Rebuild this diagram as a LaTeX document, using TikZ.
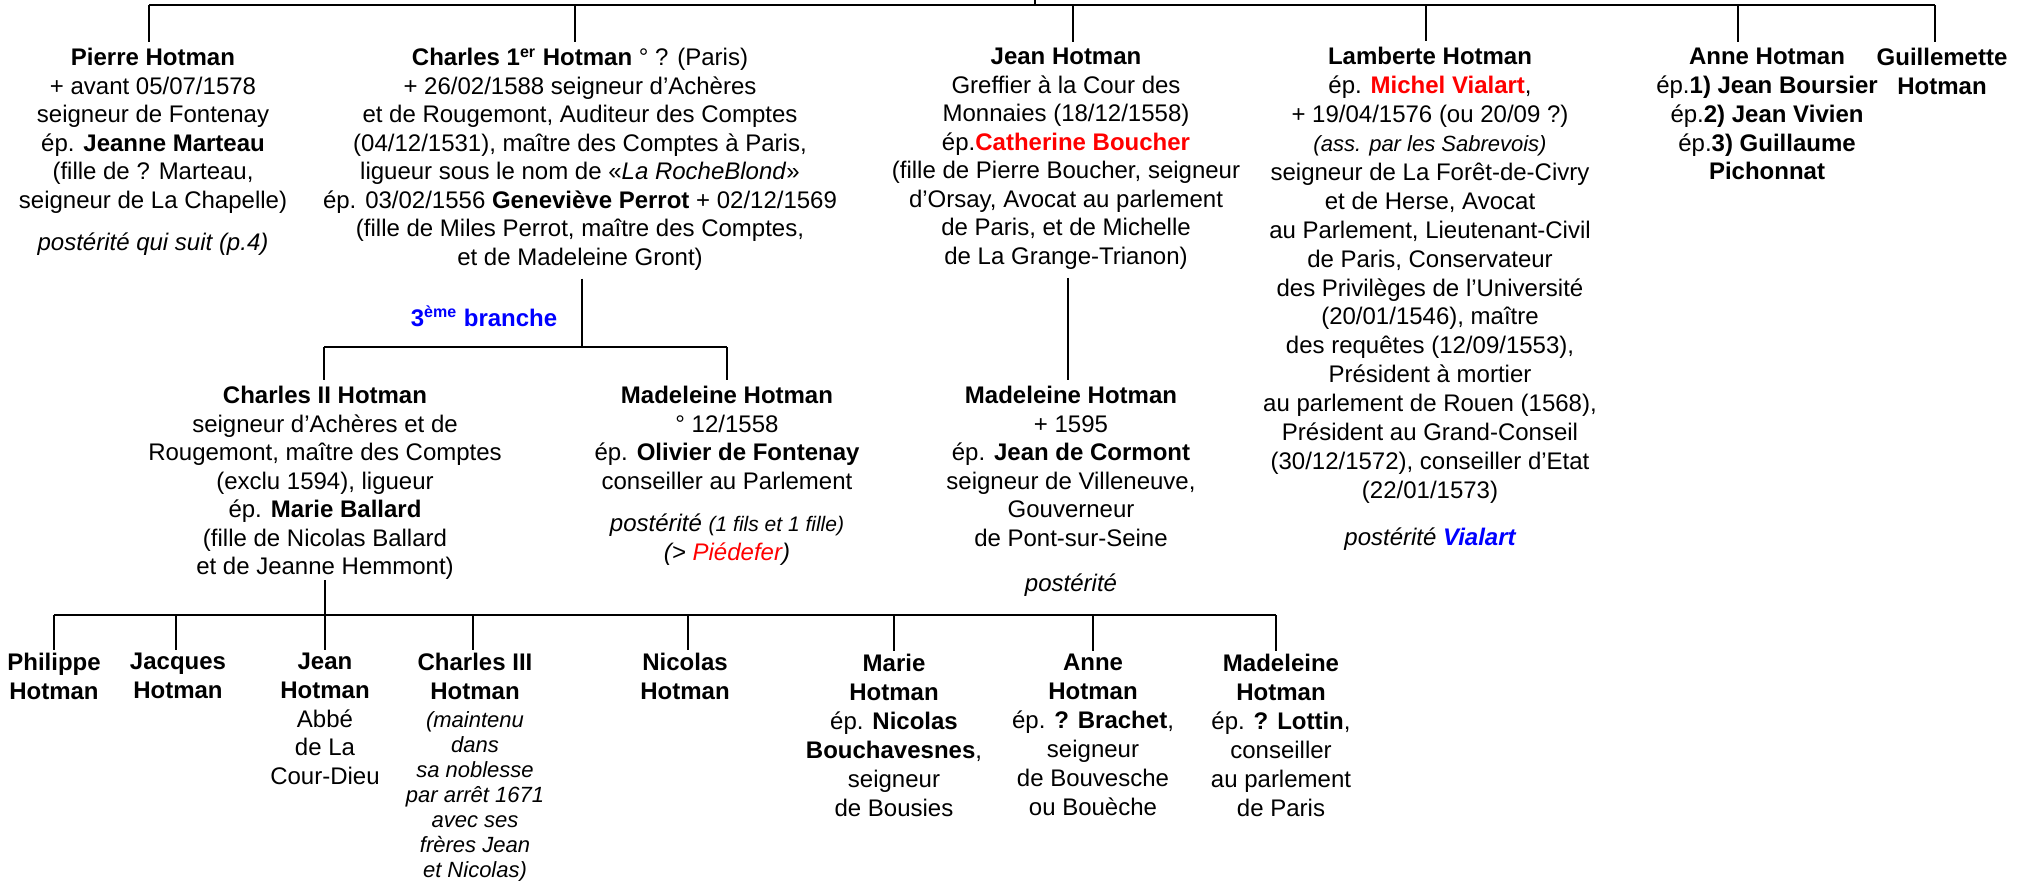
\documentclass[tikz,border=0pt]{standalone}
\usepackage{fontspec}
\setmainfont{Liberation Sans}
\definecolor{nomrouge}{RGB}{255,0,0}
\definecolor{branchebleu}{RGB}{0,0,255}
\tikzset{
  pers/.style={anchor=north, align=center, inner sep=0pt, font=\fontsize{12}{14.25}\selectfont},
  trait/.style={line width=1pt},
  lien/.style={line width=1pt, shorten >=3pt},
}

\begin{document}
\begin{tikzpicture}[x=0.5pt,y=-0.5pt]
        \useasboundingbox (0,0) rectangle (2022,880);
        % premier degre
        \node[pers] (pierre) at (153,48) {\textbf{Pierre Hotman}\\+ avant 05/07/1578\\seigneur de Fontenay\\ép. \textbf{Jeanne Marteau}\\(fille de ? Marteau,\\seigneur de La Chapelle)\\[7pt]\textit{postérité qui suit (p.4)}};
        \node[pers] (charles1) at (580,48) {\textbf{Charles 1\textsuperscript{er} Hotman} ° ? (Paris)\\+ 26/02/1588 seigneur d’Achères\\et de Rougemont, Auditeur des Comptes\\(04/12/1531), maître des Comptes à Paris,\\ligueur sous le nom de «\textit{La RocheBlond}»\\ép. 03/02/1556 \textbf{Geneviève Perrot} + 02/12/1569\\(fille de Miles Perrot, maître des Comptes,\\et de Madeleine Gront)};
        \node[pers] (jean) at (1066,48) {\textbf{Jean Hotman}\\Greffier à la Cour des\\Monnaies (18/12/1558)\\ép.\textcolor{nomrouge}{\textbf{Catherine Boucher}}\\(fille de Pierre Boucher, seigneur\\d’Orsay, Avocat au parlement\\de Paris, et de Michelle\\de La Grange-Trianon)};
        \node[pers, font=\fontsize{12}{14.45}\selectfont] (lamberte) at (1430,47) {\textbf{Lamberte Hotman}\\ép. \textcolor{nomrouge}{\textbf{Michel Vialart}},\\+ 19/04/1576 (ou 20/09 ?)\\{\fontsize{11}{13}\selectfont\textit{(ass. par les Sabrevois)}}\\seigneur de La Forêt-de-Civry\\et de Herse, Avocat\\au Parlement, Lieutenant-Civil\\de Paris, Conservateur\\des Privilèges de l’Université\\(20/01/1546), maître\\des requêtes (12/09/1553),\\Président à mortier\\au parlement de Rouen (1568),\\Président au Grand-Conseil\\(30/12/1572), conseiller d’Etat\\(22/01/1573)\\[9.3pt]\textit{postérité \textcolor{branchebleu}{\textbf{Vialart}}}};
        \node[pers, font=\fontsize{12}{14.35}\selectfont] (anne) at (1767,48) {\textbf{Anne Hotman}\\ép.\textbf{1) Jean Boursier}\\ép.\textbf{2) Jean Vivien}\\ép.\textbf{3) Guillaume}\\\textbf{Pichonnat}};
        \node[pers, font=\fontsize{12}{14.35}\selectfont] (guillemette) at (1942,48) {\textbf{Guillemette}\\\textbf{Hotman}};
        % deuxieme degre
        \node[font=\fontsize{12}{14}\selectfont, text=branchebleu, inner sep=0pt] (branche3) at (484,316) {\textbf{3\textsuperscript{ème} branche}};
        \node[pers] (charles2) at (325,386) {\textbf{Charles II Hotman}\\seigneur d’Achères et de\\Rougemont, maître des Comptes\\(exclu 1594), ligueur\\ép. \textbf{Marie Ballard}\\(fille de Nicolas Ballard\\et de Jeanne Hemmont)};
        \node[pers] (madF) at (727,386) {\textbf{Madeleine Hotman}\\° 12/1558\\ép. \textbf{Olivier de Fontenay}\\conseiller au Parlement\\[7pt]\textit{postérité {\fontsize{10.5}{12}\selectfont(1 fils et 1 fille)}}\\\textit{(> \textcolor{nomrouge}{Piédefer})}};
        \node[pers] (madC) at (1071,386) {\textbf{Madeleine Hotman}\\+ 1595\\ép. \textbf{Jean de Cormont}\\seigneur de Villeneuve,\\Gouverneur\\de Pont-sur-Seine\\[8.5pt]\textit{postérité}};
        % troisieme degre
        \node[pers] (philippe) at (54,653) {\textbf{Philippe}\\\textbf{Hotman}};
        \node[pers] (jacques) at (178,653) {\textbf{Jacques}\\\textbf{Hotman}};
        \node[pers, font=\fontsize{12}{14.3}\selectfont] (jeanA) at (325,653) {\textbf{Jean}\\\textbf{Hotman}\\Abbé\\de La\\Cour-Dieu};
        \node[pers] (charles3) at (475,653) {\textbf{Charles III}\\\textbf{Hotman}};
        \node[pers, font=\fontsize{11}{12.5}\selectfont] (charles3note) at (475,711) {\textit{(maintenu}\\\textit{dans}\\\textit{sa noblesse}\\\textit{par arrêt 1671}\\\textit{avec ses}\\\textit{frères Jean}\\\textit{et Nicolas)}};
        \node[pers] (nicolas) at (685,653) {\textbf{Nicolas}\\\textbf{Hotman}};
        \node[pers, font=\fontsize{12}{14.5}\selectfont] (marie) at (894,654) {\textbf{Marie}\\\textbf{Hotman}\\ép. \textbf{Nicolas}\\\textbf{Bouchavesnes},\\seigneur\\de Bousies};
        \node[pers, font=\fontsize{12}{14.5}\selectfont] (anne2) at (1093,654) {\textbf{Anne}\\\textbf{Hotman}\\ép. \textbf{? Brachet},\\seigneur\\de Bouvesche\\ou Bouèche};
        \node[pers, font=\fontsize{12}{14.5}\selectfont] (madeleine2) at (1281,654) {\textbf{Madeleine}\\\textbf{Hotman}\\ép. \textbf{? Lottin},\\conseiller\\au parlement\\de Paris};
        % liens du haut
        \coordinate (racine) at (1035,0);
        \coordinate (bus0) at (1035,5);
        \coordinate (dPierre) at (149,5);
        \coordinate (dCharles) at (575,5);
        \coordinate (dJean) at (1073,5);
        \coordinate (dLamberte) at (1426,5);
        \coordinate (dAnne) at (1738,5);
        \coordinate (dGuillemette) at (1935,5);
        \draw[trait] (racine) -- (bus0);
        \draw[trait] (dPierre) -- (dGuillemette);
        \draw[lien] (dPierre) -- (dPierre |- pierre.north);
        \draw[lien] (dCharles) -- (dCharles |- charles1.north);
        \draw[lien] (dJean) -- (dJean |- jean.north);
        \draw[lien] (dLamberte) -- (dLamberte |- lamberte.north);
        \draw[lien] (dAnne) -- (dAnne |- anne.north);
        \draw[lien] (dGuillemette) -- (dGuillemette |- guillemette.north);
        % liens du milieu
        \coordinate (bus1) at (582,347);
        \coordinate (dCharles2) at (324,347);
        \coordinate (dMadF) at (727,347);
        \coordinate (axeJean) at (1068,300);
        \draw[trait, shorten <=4pt] (bus1 |- charles1.south) -- (bus1);
        \draw[trait] (dCharles2) -- (dMadF);
        \draw[lien] (dCharles2) -- (dCharles2 |- charles2.north);
        \draw[lien] (dMadF) -- (dMadF |- madF.north);
        \draw[lien, shorten <=4pt] (axeJean |- jean.south) -- (axeJean |- madC.north);
        % liens du bas
        \coordinate (bus2) at (325,615);
        \coordinate (dPhilippe) at (54,615);
        \coordinate (dJacques) at (176,615);
        \coordinate (dCharles3) at (473,615);
        \coordinate (dNicolas) at (688,615);
        \coordinate (dMarie) at (894,615);
        \coordinate (dAnne2) at (1093,615);
        \coordinate (dMadeleine2) at (1276,615);
        \draw[trait] (bus2 |- charles2.south) -- (bus2);
        \draw[trait] (dPhilippe) -- (dMadeleine2);
        \draw[lien, shorten >=1.5pt] (dPhilippe) -- (dPhilippe |- philippe.north);
        \draw[lien, shorten >=1.5pt] (dJacques) -- (dJacques |- jacques.north);
        \draw[lien, shorten >=1.5pt] (bus2) -- (bus2 |- jeanA.north);
        \draw[lien, shorten >=1.5pt] (dCharles3) -- (dCharles3 |- charles3.north);
        \draw[lien, shorten >=1.5pt] (dNicolas) -- (dNicolas |- nicolas.north);
        \draw[lien, shorten >=1.5pt] (dMarie) -- (dMarie |- marie.north);
        \draw[lien, shorten >=1.5pt] (dAnne2) -- (dAnne2 |- anne2.north);
        \draw[lien, shorten >=1.5pt] (dMadeleine2) -- (dMadeleine2 |- madeleine2.north);
    \end{tikzpicture}
\end{document}
